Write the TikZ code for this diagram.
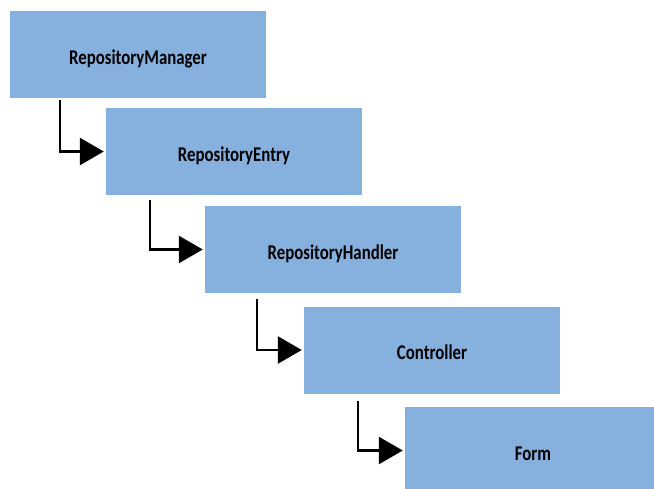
\documentclass[tikz,border=0pt]{standalone}
\usepackage{fontspec}
\setmainfont{Carlito}
\newfontfamily\labelfont{Carlito}[FakeStretch=0.8]
\usetikzlibrary{arrows.meta}
\definecolor{boxblue}{RGB}{134,176,222}

\begin{document}
\begin{tikzpicture}[x=1pt,y=-1pt,
  class node/.style={rectangle,fill=boxblue,minimum width=256pt,minimum height=87pt,inner sep=0pt,text height=19pt,text depth=0pt,font=\labelfont\bfseries\fontsize{21}{24}\selectfont},
  link/.style={line width=2.6pt,-{Triangle[length=24pt,width=27pt]},shorten >=2pt}]
  \useasboundingbox (0,0) rectangle (654,488);

  \node[class node] (manager) at (138,54.5) {RepositoryManager};
  \node[class node] (entry) at (234,151.5) {RepositoryEntry};
  \node[class node] (handler) at (333,249.5) {RepositoryHandler};
  \node[class node] (controller) at (432,350) {Controller};
  \node[class node] (form) at (533,450.5) {Form};

  \draw[link] ([xshift=-78pt,yshift=-2pt]manager.south) |- (entry.west);
  \draw[link] ([xshift=-84pt,yshift=-5pt]entry.south) |- (handler.west);
  \draw[link] ([xshift=-76pt,yshift=-6pt]handler.south) |- (controller.west);
  \draw[link] ([xshift=-74pt,yshift=-7pt]controller.south) |- (form.west);
\end{tikzpicture}
\end{document}
